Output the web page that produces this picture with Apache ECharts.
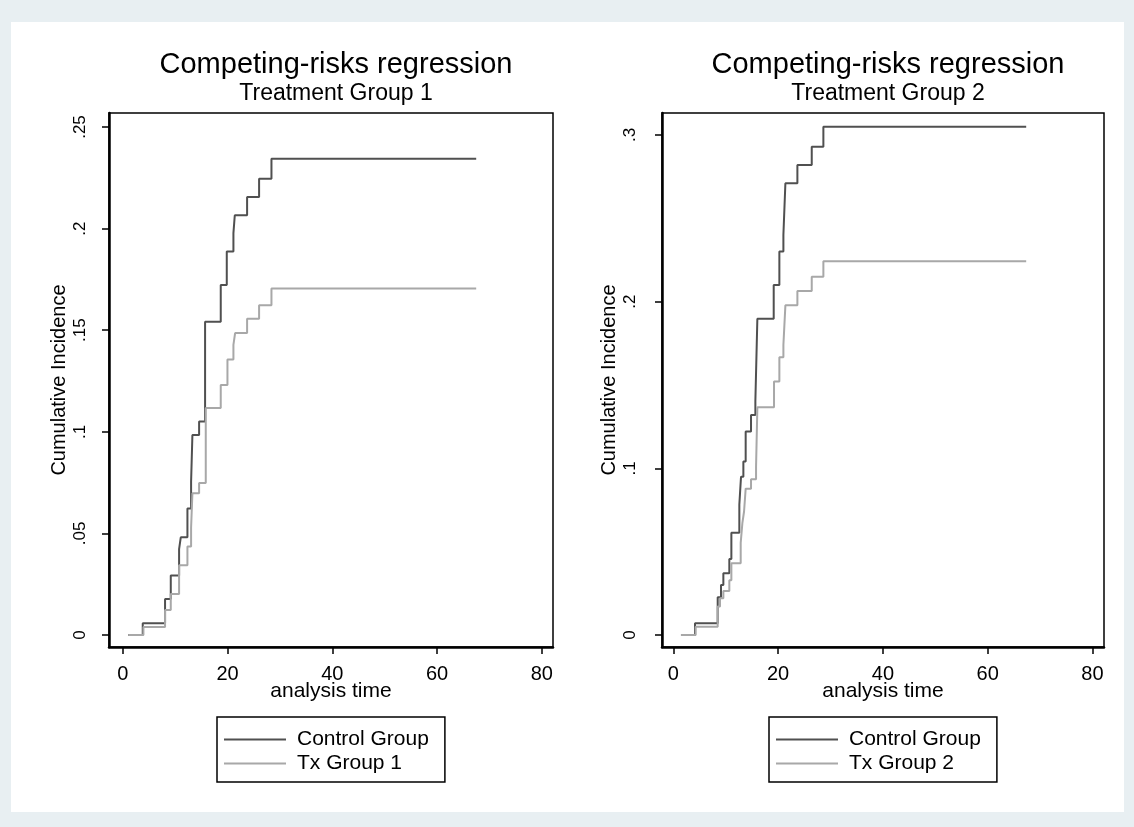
<!DOCTYPE html>
<html>
<head>
<meta charset="utf-8">
<script src="https://cdn.jsdelivr.net/npm/echarts@6/dist/echarts.min.js"></script>
<style>
  html, body { margin: 0; padding: 0; background: #e8eff2; }
  #chart { width: 1134px; height: 827px; }
</style>
</head>
<body>
<div id="chart"></div>
<script>
// step curves
const ctrl1Time = [1.08, 3.82, 8.08, 9.17, 10.76, 11.08, 12.35, 13.05, 13.30, 14.58, 15.72, 18.71, 19.86, 21.13, 21.39, 23.74, 26.03, 28.39, 67.47];
const ctrl1Cif = [0, 0.0058, 0.0177, 0.0293, 0.0423, 0.0481, 0.0622, 0.0755, 0.0984, 0.1051, 0.1542, 0.1722, 0.1887, 0.1978, 0.2066, 0.2156, 0.2245, 0.2344, 0.2344];
const tx1Time = [1.08, 3.95, 8.08, 9.17, 10.76, 12.35, 13.05, 13.30, 14.58, 15.85, 18.71, 19.99, 21.13, 21.45, 23.74, 26.03, 28.39, 67.47];
const tx1Cif = [0, 0.0039, 0.0123, 0.0202, 0.0343, 0.0436, 0.0529, 0.0698, 0.0748, 0.1117, 0.1231, 0.1356, 0.1428, 0.1486, 0.1556, 0.1623, 0.1705, 0.1705];

const ctrl2Time = [1.46, 4.14, 8.47, 9.10, 9.55, 10.69, 11.08, 12.60, 12.92, 13.37, 13.81, 14.83, 15.66, 16.04, 19.16, 20.24, 21.01, 21.39, 23.68, 26.42, 28.64, 67.35];
const ctrl2Cif = [0, 0.0071, 0.0227, 0.0300, 0.0371, 0.0456, 0.0613, 0.0782, 0.0949, 0.1041, 0.1221, 0.1320, 0.1403, 0.1898, 0.2100, 0.2301, 0.2400, 0.2711, 0.2820, 0.2929, 0.3049, 0.3049];
const tx2Time = [1.46, 4.27, 8.47, 8.91, 9.55, 10.69, 11.08, 12.86, 13.18, 13.50, 13.81, 14.83, 15.79, 16.04, 19.22, 20.24, 21.01, 21.39, 23.68, 26.42, 28.64, 67.35];
const tx2Cif = [0, 0.0049, 0.0171, 0.0221, 0.0264, 0.0328, 0.0431, 0.0553, 0.0671, 0.0741, 0.0878, 0.0934, 0.1009, 0.1367, 0.1521, 0.1667, 0.1740, 0.1978, 0.2064, 0.2150, 0.2242, 0.2242];

const xTicks = [0, 20, 40, 60, 80];
const yTicks1 = [0, 0.05, 0.1, 0.15, 0.2, 0.25];
const yTicks2 = [0, 0.1, 0.2, 0.3];

const titles = ['Competing-risks regression', 'Competing-risks regression'];
const subtitles = ['Treatment Group 1', 'Treatment Group 2'];
const names1 = ['Control Group', 'Tx Group 1'];
const names2 = ['Control Group', 'Tx Group 2'];

const font = 'Liberation Sans, Arial, sans-serif';
const dark = '#505050';
const light = '#a8a8a8';

const pairs = (t, v) => t.map((x, i) => [x, v[i]]);
const stataNum = (v) => v === 0 ? '0' : String(+v.toFixed(2)).replace(/^0\./, '.');

function xAxisFor(idx, min, max) {
  return {
    gridIndex: idx, type: 'value', min: min, max: max,
    axisLine: {onZero: false, lineStyle: {color: '#000', width: 2.5}},
    axisTick: {customValues: xTicks, length: 7, lineStyle: {color: '#000', width: 1.5}},
    axisLabel: {customValues: xTicks, fontSize: 20, color: '#000', fontFamily: font, margin: 17},
    splitLine: {show: false},
    name: 'analysis time', nameLocation: 'middle', nameGap: 34, nameMoveOverlap: false,
    nameTextStyle: {fontSize: 21, color: '#000', fontFamily: font}
  };
}

function yAxisFor(idx, min, max, ticks, shift) {
  return {
    gridIndex: idx, type: 'value', min: min, max: max,
    axisLine: {onZero: false, lineStyle: {color: '#000', width: 2.5}},
    axisTick: {customValues: ticks, length: 7, lineStyle: {color: '#000', width: 1.5}},
    axisLabel: {customValues: ticks, rotate: 90, fontSize: 17, color: '#000', fontFamily: font,
      margin: 20 + shift, formatter: stataNum},
    splitLine: {show: false},
    name: 'Cumulative Incidence', nameLocation: 'middle', nameGap: 40 + shift, nameMoveOverlap: false,
    nameTextStyle: {fontSize: 20, color: '#000', fontFamily: font}
  };
}

function curve(name, idx, t, v, color) {
  return {
    name: name, type: 'line', step: 'end', symbol: 'none',
    xAxisIndex: idx, yAxisIndex: idx,
    data: pairs(t, v),
    lineStyle: {color: color, width: 2},
    itemStyle: {color: color},
    animation: false
  };
}

function legendFor(names, left) {
  return {
    data: names, orient: 'vertical', left: left, top: 717,
    icon: 'rect', itemWidth: 62, itemHeight: 2, itemGap: 3,
    padding: [12, 16, 8, 7],
    borderColor: '#000', borderWidth: 1.5, borderRadius: 0,
    selectedMode: false,
    textStyle: {fontSize: 21, lineHeight: 21, color: '#000', fontFamily: font, padding: [0, 0, 0, 6]}
  };
}

function titleFor(i, center) {
  return {
    text: titles[i], subtext: subtitles[i],
    left: center, top: 45, textAlign: 'center', itemGap: 3,
    textStyle: {fontSize: 29, fontWeight: 'normal', color: '#000', fontFamily: font},
    subtextStyle: {fontSize: 23, color: '#000', fontFamily: font}
  };
}

const myChart = echarts.init(document.getElementById('chart'), null, {renderer: 'canvas'});
myChart.setOption({
  backgroundColor: '#e8eff2',
  animation: false,
  graphic: {
    elements: [{
      type: 'rect', z: -10, silent: true,
      shape: {x: 11, y: 22, width: 1113, height: 790},
      style: {fill: '#ffffff'}
    }]
  },
  title: [titleFor(0, 331), titleFor(1, 883)],
  grid: [
    {left: 109, top: 113, width: 444, height: 534, show: true, borderColor: '#000', borderWidth: 1.5, backgroundColor: '#fff'},
    {left: 662, top: 113, width: 442, height: 534, show: true, borderColor: '#000', borderWidth: 1.5, backgroundColor: '#fff'}
  ],
  xAxis: [xAxisFor(0, -2.62, 82.13), xAxisFor(1, -2.16, 82.2)],
  yAxis: [yAxisFor(0, -0.0059, 0.2569, yTicks1, 0), yAxisFor(1, -0.0072, 0.3132, yTicks2, 3)],
  legend: [legendFor(names1, 217), legendFor(names2, 769)],
  series: [
    curve(names1[0], 0, ctrl1Time, ctrl1Cif, dark),
    curve(names1[1], 0, tx1Time, tx1Cif, light),
    curve(names2[0], 1, ctrl2Time, ctrl2Cif, dark),
    curve(names2[1], 1, tx2Time, tx2Cif, light)
  ]
});
</script>
</body>
</html>
